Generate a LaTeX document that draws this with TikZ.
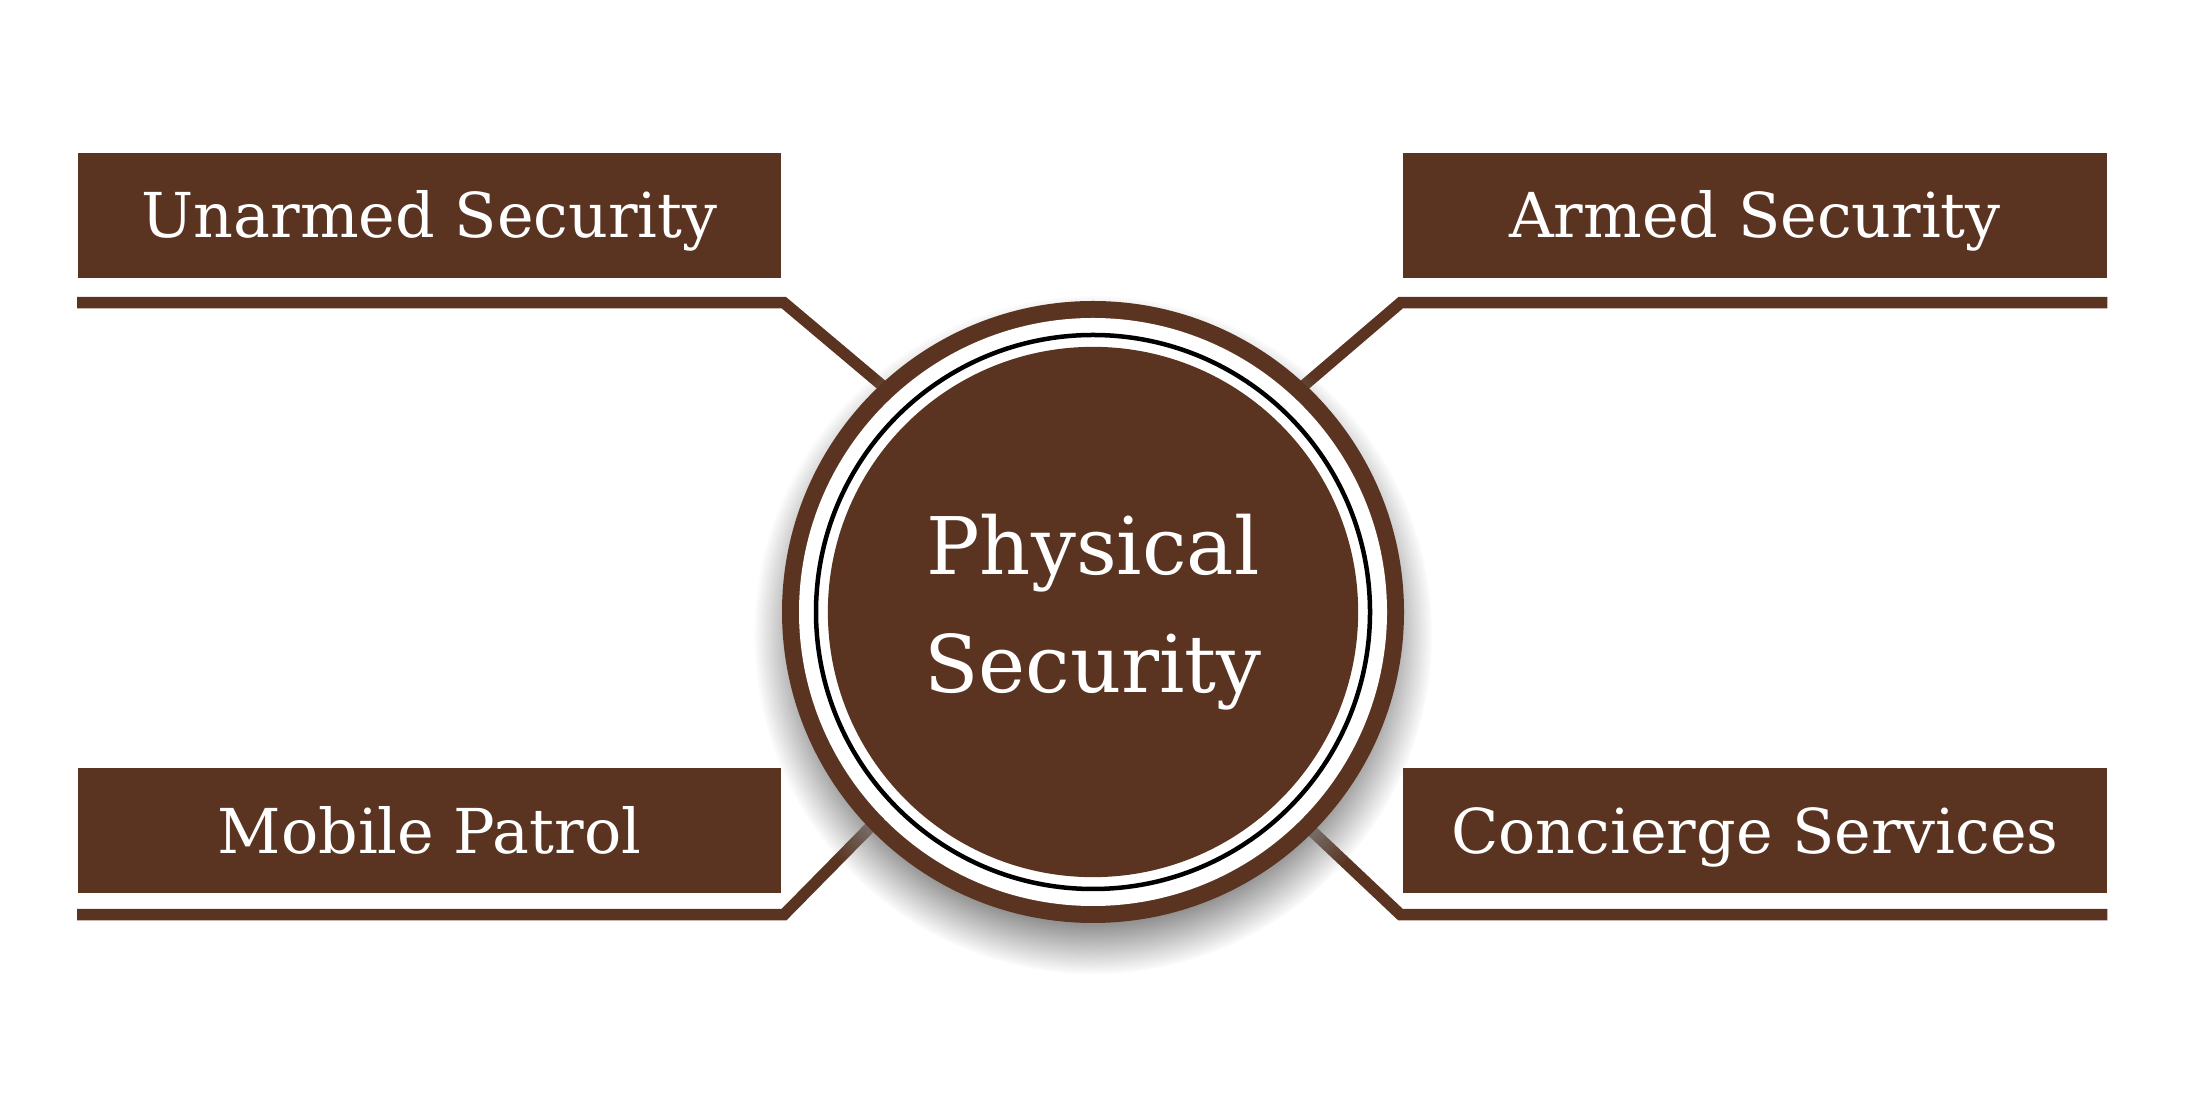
\documentclass[tikz,border=0pt]{standalone}
\usepackage{fontspec}
\setmainfont{DejaVu Serif}
\usetikzlibrary{calc,shadows,backgrounds}

\definecolor{bark}{HTML}{5A3421}

\begin{document}
\begin{tikzpicture}[x=0.01cm,y=0.01cm,
  label box/.style={rectangle,fill=bark,text=white,inner sep=0pt,
    minimum width=7.03cm,minimum height=1.25cm,
    text height=12.8pt,text depth=0pt,
    font=\fontsize{17.6}{21}\selectfont},
  rail/.style={draw=bark,line width=0.115cm,line join=miter,shorten >=-10pt}]

  \useasboundingbox (0,0) rectangle (2188,1094);

  % Radius
  \def\r{311}

  \coordinate (O) at (1093,482);

  % Outer ring
  \node[circle,fill=bark,inner sep=0pt,minimum size=2*\r*0.01cm,
    circular drop shadow={shadow xshift=0pt,shadow yshift=-6pt,
      shadow scale=1.09,opacity=0.85}] (ring) at (O) {};
  \fill[white] (O) circle (294);
  \draw[line width=0.045cm] (O) circle (277);

  \node[circle,fill=bark,inner sep=0pt,minimum size=5.30cm,
    text=white,align=center,
    font=\fontsize{22.6}{33.5}\selectfont] (hub) at (O) {Physical\\Security};

  % Boxes
  \node[label box] (unarmed) at (429.5,878.5) {Unarmed Security};
  \node[label box] (armed) at (1755,878.5) {Armed Security};
  \node[label box] (patrol) at (429.5,263.5) {Mobile Patrol};
  \node[label box] (concierge) at (1755,263.5) {Concierge Services};

  % Rails
  \begin{scope}[on background layer]
    \draw[rail] ($(unarmed.south west)+(0,-24)$)
      -- ($(unarmed.south east)+(2,-24)$) -- (ring.133.8);
    \draw[rail] ($(armed.south east)+(0,-24)$)
      -- ($(armed.south west)+(-2,-24)$) -- (ring.47.5);
    \draw[rail] ($(patrol.south west)+(0,-21)$)
      -- ($(patrol.south east)+(2,-21)$) -- (ring.224.3);
    \draw[rail] ($(concierge.south east)+(0,-21)$)
      -- ($(concierge.south west)+(-2,-21)$) -- (ring.315.8);
  \end{scope}

\end{tikzpicture}
\end{document}
